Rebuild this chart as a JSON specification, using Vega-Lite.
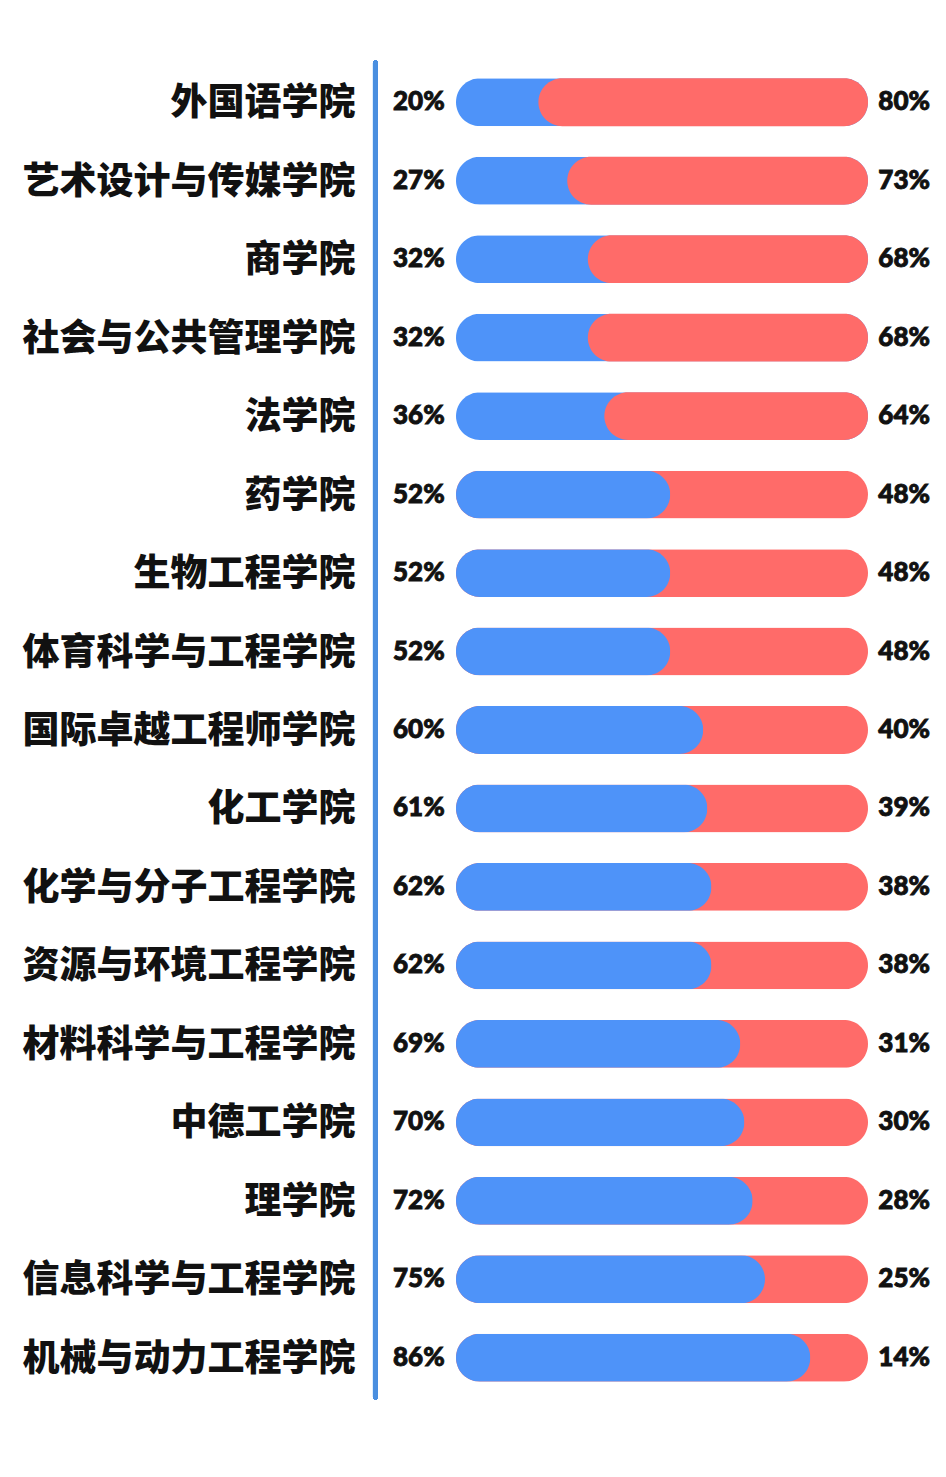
{
  "$schema": "https://vega.github.io/schema/vega-lite/v6.json",
  "autosize": {"type": "none"},
  "padding": {"left": 370, "top": 63, "right": 6, "bottom": 81},
  "width": 570,
  "height": 1334,
  "background": "#ffffff",
  "config": {"view": {"stroke": null}},
  "data": {
    "values": [
      {"college": "外国语学院", "blue": 0.20, "red": 0.80},
      {"college": "艺术设计与传媒学院", "blue": 0.27, "red": 0.73},
      {"college": "商学院", "blue": 0.32, "red": 0.68},
      {"college": "社会与公共管理学院", "blue": 0.32, "red": 0.68},
      {"college": "法学院", "blue": 0.36, "red": 0.64},
      {"college": "药学院", "blue": 0.52, "red": 0.48},
      {"college": "生物工程学院", "blue": 0.52, "red": 0.48},
      {"college": "体育科学与工程学院", "blue": 0.52, "red": 0.48},
      {"college": "国际卓越工程师学院", "blue": 0.60, "red": 0.40},
      {"college": "化工学院", "blue": 0.61, "red": 0.39},
      {"college": "化学与分子工程学院", "blue": 0.62, "red": 0.38},
      {"college": "资源与环境工程学院", "blue": 0.62, "red": 0.38},
      {"college": "材料科学与工程学院", "blue": 0.69, "red": 0.31},
      {"college": "中德工学院", "blue": 0.70, "red": 0.30},
      {"college": "理学院", "blue": 0.72, "red": 0.28},
      {"college": "信息科学与工程学院", "blue": 0.75, "red": 0.25},
      {"college": "机械与动力工程学院", "blue": 0.86, "red": 0.14}
    ]
  },
  "layer": [
    {
      "mark": {"type": "rule", "strokeWidth": 5, "strokeCap": "round", "color": "#4a8fe0"},
      "encoding": {
        "x": {"datum": -0.1954, "type": "quantitative", "scale": {"domain": [-0.20874, 1.17476], "nice": false, "zero": false}, "axis": null}
      }
    },
    {
      "transform": [
        {"fold": ["blue", "red"], "as": ["k", "v"]},
        {"aggregate": [{"op": "sum", "field": "v", "as": "total"}, {"op": "max", "field": "blue", "as": "b"}], "groupby": ["college"]}
      ],
      "mark": {"type": "bar", "cornerRadius": 24, "height": {"band": 0.61}},
      "encoding": {
        "y": {
          "field": "college",
          "type": "nominal",
          "sort": ["外国语学院", "艺术设计与传媒学院", "商学院", "社会与公共管理学院", "法学院", "药学院", "生物工程学院", "体育科学与工程学院", "国际卓越工程师学院", "化工学院", "化学与分子工程学院", "资源与环境工程学院", "材料科学与工程学院", "中德工学院", "理学院", "信息科学与工程学院", "机械与动力工程学院"],
          "scale": {"paddingInner": 0, "paddingOuter": 0},
          "axis": {
            "title": null,
            "domain": false,
            "ticks": false,
            "tickSize": 0,
            "grid": false,
            "labelPadding": 15,
            "labelLimit": 0,
            "labelFont": "Noto Sans CJK SC",
            "labelFontWeight": 900,
            "labelFontSize": 37,
            "labelColor": "#111111",
            "labelOffset": 2
          }
        },
        "x": {"field": "total", "type": "quantitative", "axis": null},
        "color": {"condition": {"test": "datum.b < 0.5", "value": "#4e93f9"}, "value": "#ff6b69"}
      }
    },
    {
      "transform": [{"filter": "datum.blue >= 0.5"}],
      "mark": {"type": "bar", "cornerRadius": 24, "height": {"band": 0.61}, "color": "#4e93f9"},
      "encoding": {
        "y": {"field": "college", "type": "nominal", "sort": ["外国语学院", "艺术设计与传媒学院", "商学院", "社会与公共管理学院", "法学院", "药学院", "生物工程学院", "体育科学与工程学院", "国际卓越工程师学院", "化工学院", "化学与分子工程学院", "资源与环境工程学院", "材料科学与工程学院", "中德工学院", "理学院", "信息科学与工程学院", "机械与动力工程学院"]},
        "x": {"field": "blue", "type": "quantitative", "axis": null}
      }
    },
    {
      "transform": [
        {"filter": "datum.blue < 0.5"},
        {"fold": ["blue", "red"], "as": ["k", "v"]},
        {"stack": "v", "groupby": ["college"], "sort": [{"field": "k", "order": "ascending"}], "as": ["s0", "s1"]},
        {"filter": "datum.k === 'red'"}
      ],
      "mark": {"type": "bar", "cornerRadius": 24, "height": {"band": 0.61}, "color": "#ff6b69"},
      "encoding": {
        "y": {"field": "college", "type": "nominal", "sort": ["外国语学院", "艺术设计与传媒学院", "商学院", "社会与公共管理学院", "法学院", "药学院", "生物工程学院", "体育科学与工程学院", "国际卓越工程师学院", "化工学院", "化学与分子工程学院", "资源与环境工程学院", "材料科学与工程学院", "中德工学院", "理学院", "信息科学与工程学院", "机械与动力工程学院"]},
        "x": {"field": "s0", "type": "quantitative", "stack": null, "axis": null},
        "x2": {"field": "s1"}
      }
    },
    {
      "mark": {"type": "text", "align": "left", "baseline": "middle", "font": "Lato", "fontWeight": 900, "fontSize": 26, "color": "#111111", "stroke": "#111111", "strokeWidth": 0.9},
      "encoding": {
        "y": {"field": "college", "type": "nominal", "sort": ["外国语学院", "艺术设计与传媒学院", "商学院", "社会与公共管理学院", "法学院", "药学院", "生物工程学院", "体育科学与工程学院", "国际卓越工程师学院", "化工学院", "化学与分子工程学院", "资源与环境工程学院", "材料科学与工程学院", "中德工学院", "理学院", "信息科学与工程学院", "机械与动力工程学院"]},
        "x": {"datum": -0.1529, "type": "quantitative", "axis": null},
        "text": {"field": "blue", "type": "quantitative", "format": ".0%"}
      }
    },
    {
      "mark": {"type": "text", "align": "right", "baseline": "middle", "font": "Lato", "fontWeight": 900, "fontSize": 26, "color": "#111111", "stroke": "#111111", "strokeWidth": 0.9},
      "encoding": {
        "y": {"field": "college", "type": "nominal", "sort": ["外国语学院", "艺术设计与传媒学院", "商学院", "社会与公共管理学院", "法学院", "药学院", "生物工程学院", "体育科学与工程学院", "国际卓越工程师学院", "化工学院", "化学与分子工程学院", "资源与环境工程学院", "材料科学与工程学院", "中德工学院", "理学院", "信息科学与工程学院", "机械与动力工程学院"]},
        "x": {"datum": 1.1505, "type": "quantitative", "axis": null},
        "text": {"field": "red", "type": "quantitative", "format": ".0%"}
      }
    }
  ]
}
